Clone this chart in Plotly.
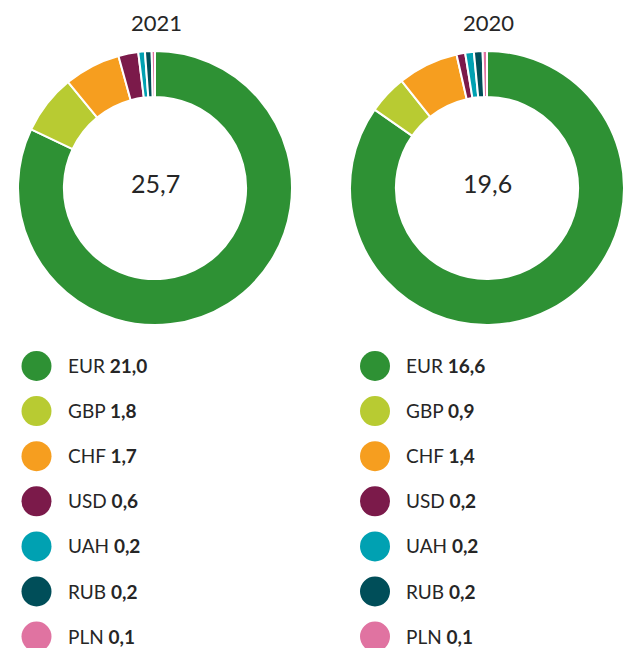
import plotly.graph_objects as go

W, H = 630, 648

currencies = ["EUR", "GBP", "CHF", "USD", "UAH", "RUB", "PLN"]
values_2021 = [21.0, 1.8, 1.7, 0.6, 0.2, 0.2, 0.1]
values_2020 = [16.6, 0.9, 1.4, 0.2, 0.2, 0.2, 0.1]
years = ["2021", "2020"]
totals = [25.7, 19.6]
colors = ["#2E9134", "#B8CB32", "#F69E1F", "#7B1A4A", "#00A1B2", "#004E59", "#E073A1"]

def fmt(v):
    return f"{v:.1f}".replace(".", ",")

def px_x(x):
    return x / W

def px_y(y):
    return 1 - y / H

fig = go.Figure()

pie_cx = [155, 487]
pie_cy = 188
R = 137
series = [values_2021, values_2020]
txt_color = "#262626"

annotations = []
shapes = []
for i, vals in enumerate(series):
    cx = pie_cx[i]
    fig.add_trace(go.Pie(
        labels=currencies,
        values=vals,
        hole=0.665,
        sort=False,
        direction="clockwise",
        rotation=0,
        marker=dict(colors=colors, line=dict(color="white", width=2)),
        textinfo="none",
        hoverinfo="label+value",
        showlegend=False,
        domain=dict(x=[px_x(cx - R), px_x(cx + R)],
                    y=[px_y(pie_cy + R), px_y(pie_cy - R)]),
    ))
    annotations.append(dict(
        text=years[i], x=px_x(cx + 1), y=px_y(22), xref="paper", yref="paper",
        showarrow=False, font=dict(size=22, color=txt_color),
        xanchor="center", yanchor="middle"))
    annotations.append(dict(
        text=fmt(totals[i]), x=px_x(cx), y=px_y(183), xref="paper", yref="paper",
        showarrow=False, font=dict(size=25, color=txt_color),
        xanchor="center", yanchor="middle"))

    circ_x = [36.5, 375][i]
    text_x = [66, 404][i]
    for j, (cur, v) in enumerate(zip(currencies, vals)):
        cy = 366 + j * 45.1
        r = 15
        shapes.append(dict(
            type="circle", xref="paper", yref="paper",
            x0=px_x(circ_x - r), x1=px_x(circ_x + r),
            y0=px_y(cy + r), y1=px_y(cy - r),
            fillcolor=colors[j], line=dict(width=0)))
        annotations.append(dict(
            text=f"{cur} <b>{fmt(v)}</b>", x=px_x(text_x), y=px_y(cy - 0.5),
            xref="paper", yref="paper", showarrow=False,
            font=dict(size=19, color=txt_color),
            xanchor="left", yanchor="middle"))

fig.update_layout(
    width=W, height=H,
    margin=dict(l=0, r=0, t=0, b=0),
    paper_bgcolor="white",
    plot_bgcolor="white",
    font=dict(family="Lato, 'Open Sans', sans-serif", color=txt_color),
    annotations=annotations,
    shapes=shapes,
)

fig.write_html("out.html")
